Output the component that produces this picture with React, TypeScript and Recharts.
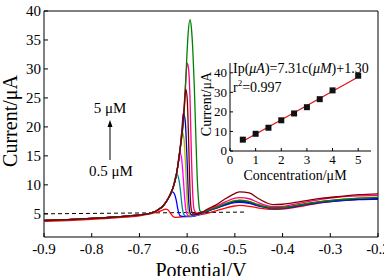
import { LineChart, Line, XAxis, YAxis, ReferenceArea, ReferenceLine } from 'recharts';

type Pt = [number, number];

const FONT = "'Liberation Serif', 'Times New Roman', serif";

// standard additions (μM) and the peak current of each scan (μA)
const concentrations = [0.5, 1, 1.5, 2, 2.5, 3, 3.5, 4, 5];
const peakCurrents = [5.8, 8.8, 11.9, 15.7, 19.2, 22.4, 26.5, 31.0, 38.5];
const scanColors = ['#ff0000', '#0000ff', '#008b8b', '#ff00ff', '#b8b000', '#0000b0', '#800000', '#ff0080', '#008000'];
// paint order, the 3.5 μM scan ends up on top
const drawOrder = [0, 1, 2, 3, 4, 5, 7, 8, 6];

// reported calibration fit
const slope = 7.31;
const intercept = 1.3;
const rSquared = 0.997;

// baseline common to the scans before the reduction wave (E in V, I in μA)
const leadIn: Pt[] = [[-0.9, 3.85], [-0.85, 4.0], [-0.8, 4.2], [-0.75, 4.45], [-0.7, 4.8], [-0.68, 5.05]];
const leadIn05: Pt[] = [[-0.9, 3.7], [-0.85, 3.85], [-0.8, 4.05], [-0.75, 4.3], [-0.7, 4.65], [-0.68, 4.95]];
const rise: Pt[] = [[-0.67, 5.3], [-0.66, 5.75], [-0.65, 6.4], [-0.64, 7.6]];

// each scan around its own peak
const wave05: Pt[] = [[-0.67, 5.15], [-0.66, 5.35], [-0.65, 5.7], [-0.645, 5.8], [-0.64, 5.65], [-0.635, 5.1], [-0.63, 4.6], [-0.625, 4.4], [-0.615, 4.45], [-0.6, 4.55], [-0.58, 4.75]];
const wave10: Pt[] = [[-0.635, 8.3], [-0.631, 8.8], [-0.627, 8.5], [-0.623, 7.4], [-0.619, 5.6], [-0.615, 4.7], [-0.61, 4.55], [-0.6, 4.5], [-0.585, 4.6], [-0.57, 5.0]];
const wave15: Pt[] = [[-0.635, 8.4], [-0.63, 9.4], [-0.626, 10.9], [-0.622, 11.9], [-0.618, 11.2], [-0.614, 9.0], [-0.611, 6.6], [-0.607, 4.9], [-0.603, 4.6], [-0.59, 4.6], [-0.575, 4.9]];
const wave20: Pt[] = [[-0.635, 8.4], [-0.63, 9.4], [-0.625, 10.8], [-0.62, 13.0], [-0.616, 15.7], [-0.612, 14.8], [-0.608, 11.0], [-0.605, 7.5], [-0.601, 5.1], [-0.597, 4.65], [-0.585, 4.7], [-0.572, 5.0]];
const wave25: Pt[] = [[-0.635, 8.4], [-0.63, 9.4], [-0.625, 10.8], [-0.62, 13.0], [-0.615, 16.0], [-0.611, 19.2], [-0.607, 18.2], [-0.603, 12.8], [-0.6, 7.2], [-0.597, 5.1], [-0.593, 4.7], [-0.58, 4.8], [-0.57, 5.1]];
const wave30: Pt[] = [[-0.635, 8.4], [-0.63, 9.4], [-0.625, 10.8], [-0.62, 13.0], [-0.615, 16.0], [-0.611, 19.5], [-0.608, 22.4], [-0.604, 21.0], [-0.6, 14.0], [-0.597, 7.5], [-0.594, 5.2], [-0.59, 4.8], [-0.578, 4.9], [-0.568, 5.2]];
const wave35: Pt[] = [[-0.635, 8.4], [-0.63, 9.4], [-0.625, 10.8], [-0.62, 13.0], [-0.615, 16.0], [-0.61, 19.5], [-0.606, 23.5], [-0.603, 26.5], [-0.6, 25.0], [-0.597, 18.0], [-0.594, 9.0], [-0.591, 5.6], [-0.587, 5.0], [-0.575, 5.1], [-0.565, 5.4]];
const wave40: Pt[] = [[-0.635, 8.4], [-0.63, 9.4], [-0.625, 10.8], [-0.62, 13.0], [-0.615, 16.0], [-0.61, 19.5], [-0.606, 24.0], [-0.603, 28.0], [-0.6, 31.0], [-0.597, 30.0], [-0.594, 25.0], [-0.591, 15.0], [-0.588, 8.0], [-0.585, 5.6], [-0.58, 5.1], [-0.57, 5.3]];
const wave50: Pt[] = [[-0.635, 8.4], [-0.63, 9.4], [-0.625, 10.8], [-0.62, 13.0], [-0.615, 16.0], [-0.61, 19.0], [-0.607, 21.5], [-0.604, 26.0], [-0.601, 31.5], [-0.598, 36.0], [-0.594, 38.5], [-0.591, 37.0], [-0.588, 33.0], [-0.585, 27.0], [-0.582, 19.0], [-0.579, 11.5], [-0.576, 7.2], [-0.573, 5.5], [-0.568, 5.3]];

// second wave and anodic end of each scan
const tailPotentials = [-0.56, -0.54, -0.52, -0.5, -0.49, -0.47, -0.45, -0.42, -0.4, -0.36, -0.32, -0.28, -0.24, -0.2];
const tail05 = [5.05, 5.5, 6.0, 6.35, 6.45, 6.3, 6.0, 5.75, 5.8, 6.3, 6.9, 7.3, 7.5, 7.65];
const tail10 = [5.35, 5.95, 6.5, 6.95, 7.0, 6.8, 6.35, 5.9, 5.95, 6.45, 6.95, 7.25, 7.45, 7.55];
const tail15 = [5.4, 6.0, 6.6, 7.1, 7.15, 6.95, 6.45, 6.0, 6.05, 6.55, 7.05, 7.35, 7.55, 7.7];
const tail20 = [5.45, 6.05, 6.7, 7.25, 7.3, 7.1, 6.55, 6.05, 6.1, 6.6, 7.1, 7.45, 7.65, 7.8];
const tail25 = [5.5, 6.1, 6.75, 7.3, 7.35, 7.15, 6.6, 6.1, 6.15, 6.65, 7.15, 7.5, 7.7, 7.85];
const tail30 = [5.4, 6.0, 6.6, 7.1, 7.15, 6.95, 6.45, 6.0, 6.05, 6.55, 7.05, 7.35, 7.5, 7.6];
const tail35 = [5.7, 6.5, 7.6, 8.5, 8.8, 8.6, 7.6, 6.6, 6.65, 7.15, 7.65, 8.0, 8.3, 8.45];
const tail40 = [5.55, 6.25, 7.05, 7.7, 7.8, 7.6, 6.9, 6.25, 6.3, 6.9, 7.5, 7.9, 8.1, 8.2];
const tail50 = [5.45, 6.05, 6.7, 7.25, 7.3, 7.1, 6.5, 6.0, 6.05, 6.6, 7.1, 7.45, 7.7, 7.85];

// blank (dashed) baseline
const blankLine: Pt[] = [[-0.9, 5.0], [-0.48, 5.3]];

const potentialTicks = [-0.9, -0.8, -0.7, -0.6, -0.5, -0.4, -0.3, -0.2];
const currentTicks = [5, 10, 15, 20, 25, 30, 35, 40];
const concTicks = [0, 1, 2, 3, 4, 5];
const insetCurrentTicks = [0, 10, 20, 30, 40];

const waves = [wave05, wave10, wave15, wave20, wave25, wave30, wave35, wave40, wave50];
const tails = [tail05, tail10, tail15, tail20, tail25, tail30, tail35, tail40, tail50];

const scans = waves.map((w, k) => {
  const head = k === 0 ? leadIn05 : [...leadIn, ...rise];
  const end: Pt[] = tailPotentials.map((e, j) => [e, tails[k][j]]);
  return [...head, ...w, ...end].map(([e, i]) => ({ e, i }));
});

const calibration = concentrations.map((c, k) => ({ c, ip: peakCurrents[k] }));
const fitEnds = [concentrations[0], concentrations[concentrations.length - 1]];
const fitLine = fitEnds.map((c) => ({ c, ip: slope * c + intercept }));

const TICK_MARGIN = 2;

// ticks drawn inside the frame, with the label outside
function BottomTick(props: any) {
  const { x, y, payload, fontSize, len, gap } = props;
  const axisY = y - TICK_MARGIN;
  return (
    <g>
      <line x1={x} y1={axisY} x2={x} y2={axisY - len} stroke="#000" />
      <text x={x} y={axisY + gap} textAnchor="middle" fontSize={fontSize} fontFamily={FONT} fill="#000">
        {String(payload.value)}
      </text>
    </g>
  );
}

function LeftTick(props: any) {
  const { x, y, payload, fontSize, len } = props;
  const axisX = x + TICK_MARGIN;
  return (
    <g>
      <line x1={axisX} y1={y} x2={axisX + len} y2={y} stroke="#000" />
      <text x={axisX - 3} y={y + fontSize * 0.33} textAnchor="end" fontSize={fontSize} fontFamily={FONT} fill="#000">
        {String(payload.value)}
      </text>
    </g>
  );
}

function SquareDot(props: any) {
  const { cx, cy, index } = props;
  return <rect key={index} x={cx - 3} y={cy - 3} width={6} height={6} fill="#111" />;
}

export default function App() {
  return (
    <div style={{ position: 'absolute', left: 0, top: 0, width: 384, height: 276, background: '#fff', fontFamily: FONT, overflow: 'hidden' }}>
      <LineChart width={384} height={276} margin={{ top: 11, right: 6, left: 0, bottom: 0 }}>
        <XAxis
          dataKey="e"
          type="number"
          domain={[-0.9, -0.2]}
          ticks={potentialTicks}
          height={39}
          axisLine={false}
          tickSize={0}
          tickMargin={TICK_MARGIN}
          interval={0}
          tick={(p: any) => <BottomTick {...p} fontSize={15} len={4} gap={17} />}
        />
        <YAxis
          type="number"
          domain={[1, 40]}
          ticks={currentTicks}
          width={44}
          axisLine={false}
          tickSize={0}
          tickMargin={TICK_MARGIN}
          interval={0}
          tick={(p: any) => <LeftTick {...p} fontSize={15} len={4} />}
        />
        <ReferenceArea x1={-0.9} x2={-0.2} y1={1} y2={40} fill="none" stroke="#000" strokeWidth={1} />
        <ReferenceLine
          segment={blankLine.map(([x, y]) => ({ x, y }))}
          stroke="#000"
          strokeDasharray="4 3"
          strokeWidth={1}
        />
        {drawOrder.map((k) => (
          <Line
            key={concentrations[k]}
            data={scans[k]}
            dataKey="i"
            type="monotone"
            stroke={scanColors[k]}
            strokeWidth={1.3}
            dot={false}
            isAnimationActive={false}
          />
        ))}
      </LineChart>

      <div style={{ position: 'absolute', left: 190, top: 55 }}>
        <LineChart width={190} height={130} margin={{ top: 8, right: 9, left: 0, bottom: 0 }}>
          <XAxis
            dataKey="c"
            type="number"
            domain={[0, 5.5]}
            ticks={concTicks}
            height={34}
            stroke="#000"
            tickSize={0}
            tickMargin={TICK_MARGIN}
            interval={0}
            tick={(p: any) => <BottomTick {...p} fontSize={13} len={3} gap={13} />}
          />
          <YAxis
            type="number"
            domain={[0, 45]}
            ticks={insetCurrentTicks}
            width={40}
            stroke="#000"
            tickSize={0}
            tickMargin={TICK_MARGIN}
            interval={0}
            tick={(p: any) => <LeftTick {...p} fontSize={13} len={3} />}
          />
          <Line data={fitLine} dataKey="ip" stroke="#e01010" strokeWidth={1.2} dot={false} isAnimationActive={false} />
          <Line data={calibration} dataKey="ip" stroke="none" dot={<SquareDot />} isAnimationActive={false} />
        </LineChart>
      </div>

      <svg width={384} height={276} style={{ position: 'absolute', left: 0, top: 0, pointerEvents: 'none' }} fontFamily={FONT} fill="#000">
        <text transform="translate(17,121) rotate(-90)" textAnchor="middle" fontSize={20}>Current/μA</text>
        <text x={201} y={277} textAnchor="middle" fontSize={20}>Potential/V</text>

        <text x={110} y={113} textAnchor="middle" fontSize={15}>5 μM</text>
        <line x1={110} y1={160} x2={110} y2={126} stroke="#000" strokeWidth={1} />
        <path d="M107.5,127 L110,120 L112.5,127 Z" fill="#000" />
        <text x={111} y={176} textAnchor="middle" fontSize={15}>0.5 μM</text>

        <text transform="translate(211,104) rotate(-90)" textAnchor="middle" fontSize={14}>Current/μA</text>
        <text x={295} y={180} textAnchor="middle" fontSize={14}>Concentration/μM</text>
        <text x={233} y={73} fontSize={14}>
          Ip(<tspan fontStyle="italic">μA</tspan>)={slope}c(<tspan fontStyle="italic">μM</tspan>)+{intercept.toFixed(2)}
        </text>
        <text x={233} y={92} fontSize={14}>
          r<tspan fontSize={9} dy={-6}>2</tspan>
          <tspan dy={6}>={rSquared}</tspan>
        </text>
      </svg>
    </div>
  );
}
